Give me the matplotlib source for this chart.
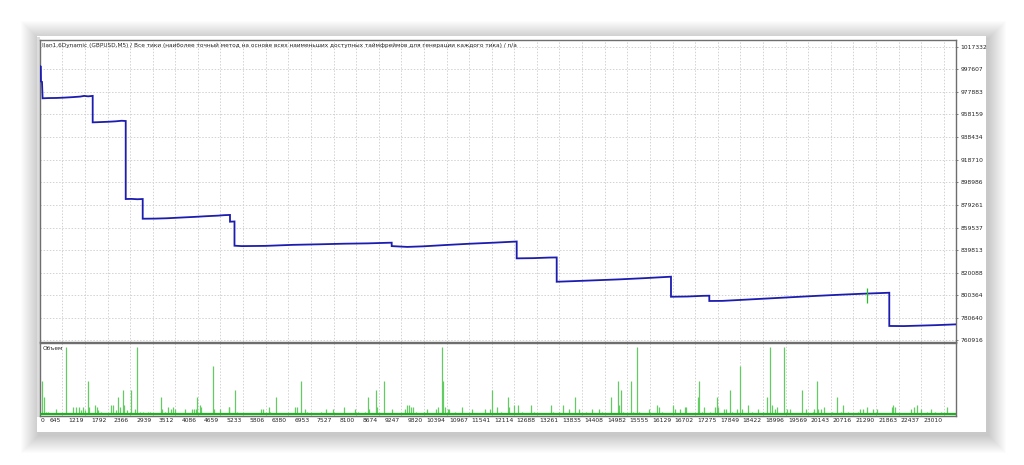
import matplotlib
matplotlib.use('Agg')
import matplotlib.pyplot as plt
from matplotlib.patches import Rectangle
import matplotlib.transforms as mtransforms

# ---------------- data ----------------
title_text = ("Ilan1.6Dynamic (GBPUSD,M5) / Все тики (наиболее точный метод на основе всех "
              "наименьших доступных таймфреймов для генерации каждого тика) / n/a")
volume_label = "Объем"

# balance curve: trade index and balance (step changes repeat the index)
trade_idx = [79, 100, 104, 130, 145, 300, 500, 700, 900, 1100, 1200, 1300, 1416,
             1416, 1500, 1800, 2000, 2150, 2254,
             2254, 2400, 2550, 2685,
             2685, 3000, 3300, 3700, 4000, 4300, 4600, 4750, 4900,
             4900, 5014,
             5014, 5200, 5800, 6500, 7200, 7800, 8400, 9003,
             9003, 9400, 9800, 10400, 11000, 11600, 12175,
             12175, 12600, 13000, 13190,
             13190, 13600, 14200, 14800, 15400, 16090,
             16090, 16500, 16900, 17062,
             17062, 17400, 18000, 18600, 19200, 19800, 20400, 21000, 21629,
             21629, 22000, 22400, 22800, 23322]
balance = [1000400, 1000000, 987000, 986600, 972300, 972500, 972600, 972900, 973300, 973800, 974400, 974000, 974400,
           951300, 951400, 951800, 952200, 952700, 952500,
           884400, 884500, 884200, 884400,
           867200, 867300, 867600, 868300, 868800, 869400, 869900, 870300, 870500,
           864600, 864800,
           843650, 843300, 843500, 844400, 844900, 845400, 845700, 846300,
           843300, 842600, 843100, 844300, 845400, 846300, 847300,
           832600, 832800, 833300, 833400,
           812200, 812700, 813500, 814300, 815300, 816600,
           799100, 799300, 799900, 800000,
           795400, 795500, 796600, 797700, 798800, 799900, 800900, 801800, 802600,
           773600, 773500, 773900, 774300, 775000]

# small green marker on the balance curve
marker_idx = 21071
marker_low, marker_high = 793400, 807000

# volume histogram
vol_idx = [130, 180, 231, 282, 485, 731, 909, 993, 1061, 1119, 1178, 1228, 1289, 1330, 1482, 1518, 1558, 1619,
           1880, 1924, 2007, 2066, 2109, 2177, 2218, 2279, 2380, 2482, 2540, 2616, 2692, 2812, 2870,
           3149, 3182, 3251, 3334, 3395, 3461, 3512, 3766, 3943, 3994, 4045, 4070, 4139, 4172, 4461, 4487,
           4654, 4867, 4882, 5034, 5070, 5687, 5730, 5882, 5915, 6060, 6557, 6608, 6709, 6811, 6846, 7201,
           7336, 7506, 7793, 8072, 8156, 8318, 8409, 8435, 8597, 8622, 8815, 9003, 9348, 9399, 9442, 9485,
           9536, 9620, 9830, 9891, 10127, 10186, 10272, 10313, 10356, 10424, 10465, 10609, 10779, 11033,
           11378, 11497, 11540, 11682, 11768, 11946, 11987, 12106, 12215, 12301, 12545, 12614, 13045, 13104,
           13248, 13342, 13510, 13655, 13748, 13933, 14078, 14255, 14339, 14575, 14745, 14778, 14814, 14865,
           15075, 15134, 15228, 15271, 15524, 15743, 15778, 15862, 16133, 16199, 16318, 16437, 16470, 16775,
           16808, 16884, 16935, 17080, 17206, 17265, 17291, 17443, 17485, 17594, 17645, 17757, 17841, 17892,
           18052, 18153, 18290, 18432, 18526, 18602, 18653, 18729, 18787, 18957, 19041, 19109, 19421, 19508,
           19685, 19726, 19787, 19828, 19896, 19972, 20167, 20294, 20396, 20462, 20574, 20828, 20886, 20970,
           21071, 21208, 21325, 21690, 21731, 21774, 22172, 22264, 22324, 22426, 22578, 22680, 22797, 22934, 23101]
vol_val = [0.49, 0.25, 0.035, 0.035, 0.07, 0.99, 0.10, 0.10, 0.10, 0.06, 0.10, 0.06, 0.49, 0.10, 0.13, 0.10, 0.06, 0.035,
           0.13, 0.13, 0.06, 0.25, 0.10, 0.36, 0.13, 0.06, 0.36, 0.07, 0.99, 0.035, 0.035, 0.035, 0.035,
           0.25, 0.07, 0.035, 0.10, 0.07, 0.10, 0.07, 0.07, 0.07, 0.07, 0.07, 0.25, 0.13, 0.10, 0.71, 0.07,
           0.07, 0.10, 0.10, 0.36, 0.035, 0.07, 0.07, 0.10, 0.035, 0.25, 0.10, 0.10, 0.49, 0.07, 0.035, 0.035,
           0.07, 0.07, 0.10, 0.07, 0.035, 0.035, 0.25, 0.08, 0.36, 0.10, 0.49, 0.07, 0.07, 0.13, 0.13, 0.10,
           0.10, 0.035, 0.035, 0.07, 0.07, 0.10, 0.99, 0.49, 0.10, 0.07, 0.08, 0.035, 0.10, 0.07,
           0.07, 0.07, 0.36, 0.10, 0.035, 0.25, 0.10, 0.13, 0.13, 0.035, 0.13, 0.035, 0.13, 0.035,
           0.035, 0.13, 0.07, 0.25, 0.07, 0.035, 0.07, 0.07, 0.035, 0.25, 0.49, 0.13, 0.36, 0.035,
           0.49, 0.035, 0.99, 0.035, 0.07, 0.13, 0.10, 0.035, 0.13, 0.07, 0.07, 0.10, 0.10, 0.25,
           0.49, 0.035, 0.10, 0.035, 0.10, 0.25, 0.10, 0.07, 0.07, 0.36, 0.035, 0.07, 0.71, 0.07,
           0.13, 0.035, 0.07, 0.035, 0.25, 0.99, 0.13, 0.07, 0.10, 0.99, 0.07, 0.07, 0.36, 0.07,
           0.035, 0.07, 0.49, 0.07, 0.07, 0.10, 0.035, 0.25, 0.035, 0.13, 0.035, 0.035, 0.07, 0.07,
           0.10, 0.07, 0.07, 0.10, 0.13, 0.10, 0.07, 0.10, 0.13, 0.07, 0.035, 0.07, 0.035, 0.035, 0.10]

# axis tick labels
y_ticks = [1017332, 997607, 977883, 958159, 938434, 918710, 898986, 879261,
           859537, 839813, 820088, 800364, 780640, 760916]
x_ticks = [645, 1219, 1792, 2366, 2939, 3512, 4086, 4659, 5233, 5806, 6380, 6953, 7527, 8100,
           8674, 9247, 9820, 10394, 10967, 11541, 12114, 12688, 13261, 13835, 14408, 14982,
           15555, 16129, 16702, 17275, 17849, 18422, 18996, 19569, 20143, 20716, 21290, 21863,
           22437, 23010]
x_first_label = "0"

# ---------------- figure ----------------
W, H = 1024, 465
fig = plt.figure(figsize=(W / 100, H / 100), dpi=100)
fig.patch.set_facecolor('white')


def fx(px):
    return px / W


def fy(py):
    return 1 - py / H


# soft drop shadow around the screenshot panel
px0, py0, px1, py1 = 37, 36, 986, 432
for i in range(18, 0, -1):
    fig.patches.append(Rectangle((fx(px0 - i + 2), fy(py1 + i + 3)),
                                 (px1 - px0 + 2 * i) / W, (py1 - py0 + 2 * i) / H,
                                 transform=fig.transFigure, facecolor='black',
                                 alpha=0.011, edgecolor='none', zorder=-20))
fig.patches.append(Rectangle((fx(px0), fy(py1)), (px1 - px0) / W, (py1 - py0) / H,
                             transform=fig.transFigure, facecolor='white',
                             edgecolor='none', zorder=-10))
# grey window border at left
fig.patches.append(Rectangle((fx(37), fy(417)), 3 / W, 380 / H,
                             transform=fig.transFigure, facecolor='#dcdcdc',
                             edgecolor='none', zorder=-9))

ax_l, ax_r = 40, 956
main_top, main_bot = 40, 341.5
vol_top, vol_bot = 342.5, 416

ax = fig.add_axes([fx(ax_l), fy(main_bot), (ax_r - ax_l) / W, (main_bot - main_top) / H])
axv = fig.add_axes([fx(ax_l), fy(vol_bot), (ax_r - ax_l) / W, (vol_bot - vol_top) / H])

XMIN, XMAX = 79, 23322
grid_kw = dict(color='#d2d2d2', lw=0.7, linestyle=(0, (1.5, 1.7)), zorder=0)
spine_col = '#6e6e6e'
fs = 4.3
tcol = '#222222'

for a in (ax, axv):
    a.set_xlim(XMIN, XMAX)
    a.set_facecolor('white')
    for s in a.spines.values():
        s.set_color(spine_col)
        s.set_linewidth(1.0)
    a.set_xticks(x_ticks)
    a.set_xticklabels([])
    for t in x_ticks:
        a.axvline(t, **grid_kw)

# main panel
ax.set_ylim(760043, 1023179)
ax.set_yticks(y_ticks)
ax.yaxis.tick_right()
ax.set_yticklabels([f"{v}" for v in y_ticks], fontsize=fs, color=tcol)
ax.tick_params(axis='y', length=1.5, width=0.6, color=spine_col, pad=1.5)
ax.tick_params(axis='x', length=0)
for v in y_ticks:
    ax.axhline(v, **grid_kw)
ax.plot(trade_idx, balance, color='#1c1cb0', lw=1.3, zorder=3, solid_joinstyle='miter')
ax.vlines(marker_idx, marker_low, marker_high, color='#22c022', lw=0.9, zorder=4)
ax.text(0.0025, 0.983, title_text, transform=ax.transAxes, fontsize=4.15,
        color=tcol, ha='left', va='center', zorder=5)

# volume panel
axv.set_ylim(-0.03, 1.062)
axv.set_yticks([])
axv.vlines(vol_idx, 0, vol_val, color='#62cc62', lw=0.9, zorder=2)
axv.axhline(0.0, color='#1fb01f', lw=1.6, zorder=3)
axv.text(0.003, 0.921, volume_label, transform=axv.transAxes, fontsize=4.15,
         color=tcol, ha='left', va='center')
axv.tick_params(axis='x', length=0)

off = mtransforms.ScaledTranslation(-1.2 / 100, -4.7 / 100, fig.dpi_scale_trans)
trans = mtransforms.blended_transform_factory(axv.transData, axv.transAxes) + off
for t in x_ticks:
    axv.text(t, 0, f"{t}", transform=trans, fontsize=fs, color=tcol,
             ha='right', va='center', clip_on=False)
axv.text(0.0, 0, x_first_label, transform=axv.transAxes + mtransforms.ScaledTranslation(0.7 / 100, -4.7 / 100, fig.dpi_scale_trans),
         fontsize=fs, color=tcol, ha='left', va='center')

fig.savefig('out.png', dpi=100, facecolor='white')
